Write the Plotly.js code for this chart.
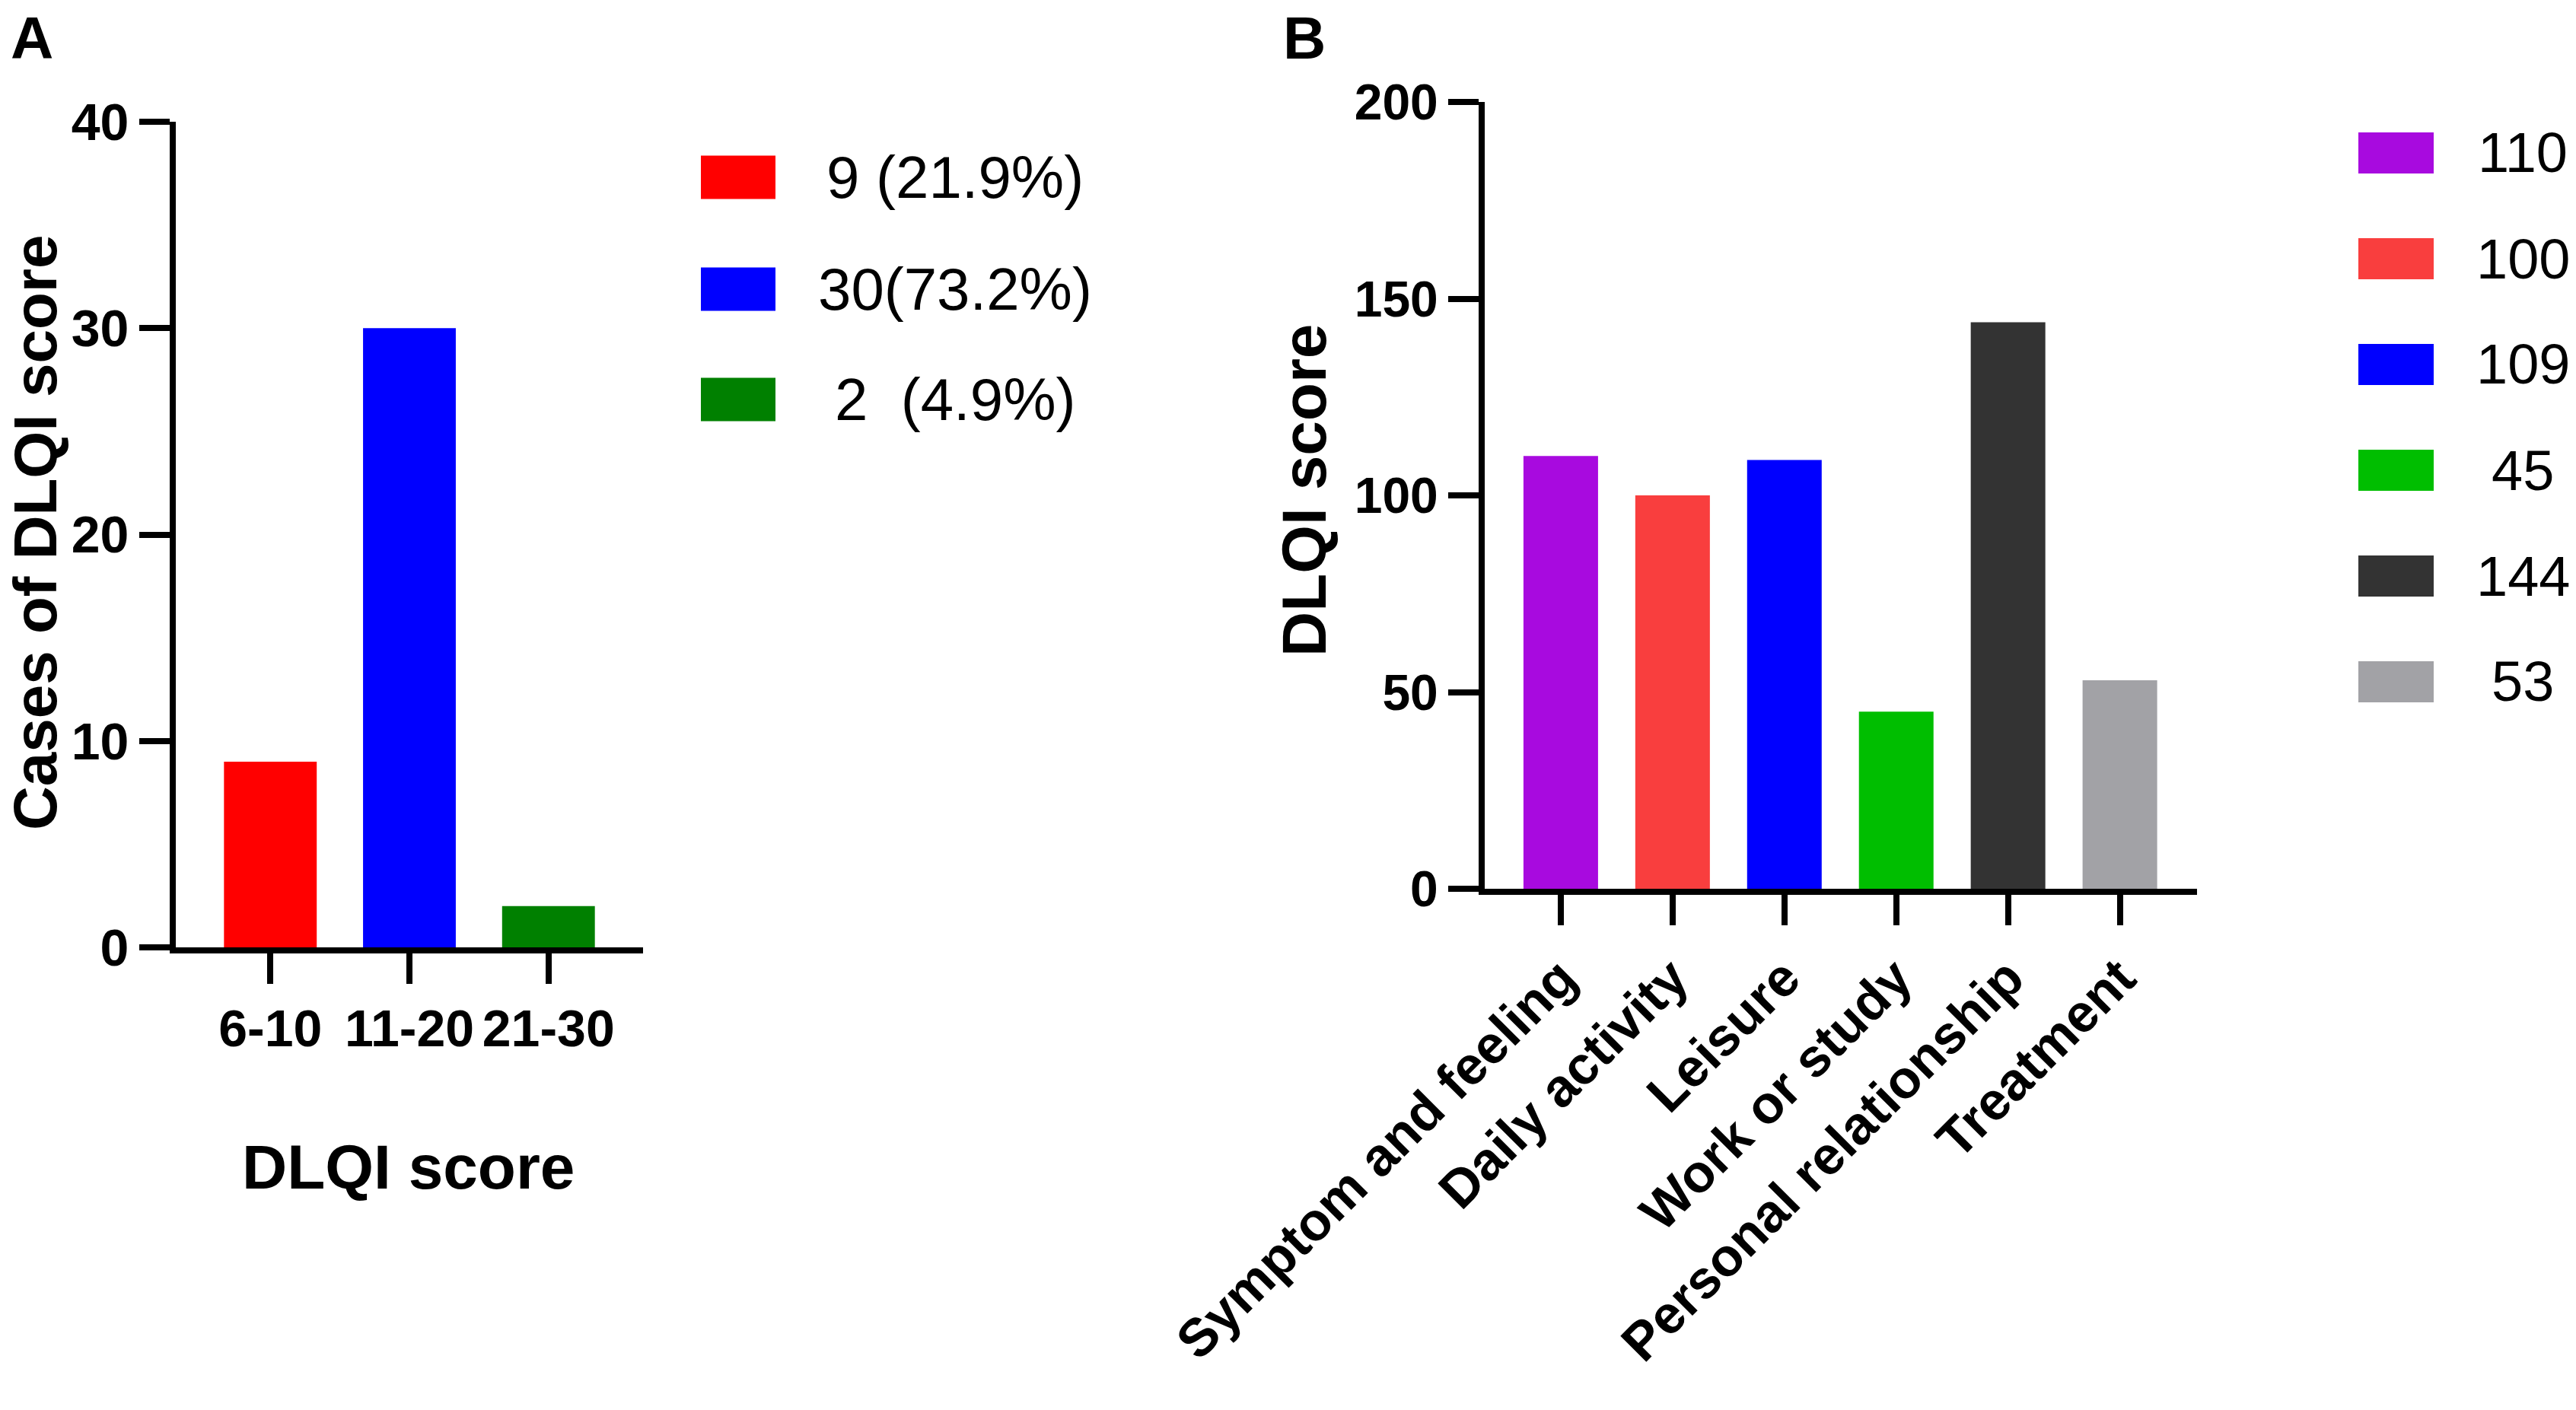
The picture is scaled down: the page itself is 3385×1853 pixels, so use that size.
<!DOCTYPE html>
<html>
<head>
<meta charset="utf-8">
<script src="https://cdn.plot.ly/plotly-3.0.1.min.js"></script>
<style>
  html, body { margin: 0; padding: 0; background: #fff; }
  #chart { width: 3385px; height: 1853px; }
</style>
</head>
<body>
<div id="chart"></div>
<script>
// Panel A: cases per DLQI score range
var scoreRanges = ['6-10', '11-20', '21-30'];
var caseCounts = [9, 30, 2];
var caseLabels = ['9 (21.9%)', '30(73.2%)', '2  (4.9%)'];
var caseColors = ['#FF0000', '#0000FF', '#008000'];

// Panel B: DLQI score per domain
var domains = ['Symptom and feeling', 'Daily activity', 'Leisure',
               'Work or study', 'Personal relationship', 'Treatment'];
var domainScores = [110, 100, 109, 45, 144, 53];
var domainColors = ['#A80ADF', '#F93E3E', '#0000FF', '#00BE00', '#333333', '#A2A2A6'];

var W = 3385, H = 1853;
var FONT = 'Arial, "Liberation Sans", sans-serif';

function px(x) { return x / W; }
function py(y) { return 1 - y / H; }

function axisStyle(extra)
{
    var a = {
        showline: true,
        linecolor: '#000',
        linewidth: 8,
        ticks: 'outside',
        ticklen: 40,
        tickwidth: 8,
        tickcolor: '#000',
        showgrid: false,
        zeroline: false,
        fixedrange: true
    };
    for (var k in extra) a[k] = extra[k];
    return a;
}

function legendBlock(labels, colors, x0, x1, yc, h, textX, size)
{
    var shapes = [], notes = [];
    for (let i = 0; i < labels.length; i++) {
        shapes.push({
            type: 'rect', xref: 'paper', yref: 'paper',
            x0: px(x0), x1: px(x1),
            y0: py(yc[i] + h / 2), y1: py(yc[i] - h / 2),
            fillcolor: colors[i], line: {width: 0}
        });
        notes.push({
            xref: 'paper', yref: 'paper',
            x: px(textX), y: py(yc[i]),
            xanchor: 'center', yanchor: 'middle',
            text: labels[i].replace(/ /g, '&nbsp;'), showarrow: false,
            font: {family: FONT, size: size, color: '#000'}
        });
    }
    return {shapes: shapes, notes: notes};
}

var traces = [{
    type: 'bar',
    x: scoreRanges,
    y: caseCounts,
    width: 0.667,
    marker: {color: caseColors, line: {width: 0}},
    xaxis: 'x', yaxis: 'y',
    showlegend: false,
    hoverinfo: 'x+y'
}, {
    type: 'bar',
    x: domains,
    y: domainScores,
    width: 0.667,
    marker: {color: domainColors, line: {width: 0}},
    xaxis: 'x2', yaxis: 'y2',
    showlegend: false,
    hoverinfo: 'x+y'
}];

var legA = legendBlock(caseLabels, caseColors, 921, 1019, [233, 380, 525], 57, 1255, 78);
var legB = legendBlock(domainScores.map(String), domainColors, 3099, 3198,
                       [201, 340, 479, 618, 757, 896], 54, 3315, 74);

var titleFont = {family: FONT, size: 82, color: '#000', weight: 'bold'};

var annotations = [
    // panel letters
    {xref: 'paper', yref: 'paper', x: px(42), y: py(50), text: '<b>A</b>',
     showarrow: false, xanchor: 'center', yanchor: 'middle',
     font: {family: FONT, size: 78, color: '#000'}},
    {xref: 'paper', yref: 'paper', x: px(1714), y: py(50), text: '<b>B</b>',
     showarrow: false, xanchor: 'center', yanchor: 'middle',
     font: {family: FONT, size: 78, color: '#000'}},
    // axis titles
    {xref: 'paper', yref: 'paper', x: px(46), y: py(700), text: '<b>Cases of DLQI score</b>',
     textangle: -90, showarrow: false, xanchor: 'center', yanchor: 'middle',
     font: {family: FONT, size: 80, color: '#000'}},
    {xref: 'paper', yref: 'paper', x: px(536), y: py(1533), text: '<b>DLQI score</b>',
     showarrow: false, xanchor: 'center', yanchor: 'middle', font: titleFont},
    {xref: 'paper', yref: 'paper', x: px(1713), y: py(645), text: '<b>DLQI score</b>',
     textangle: -90, showarrow: false, xanchor: 'center', yanchor: 'middle', font: titleFont}
].concat(legA.notes, legB.notes);

var tickFont = {family: FONT, size: 68, color: '#000', weight: 'bold'};

var layout = {
    width: W,
    height: H,
    margin: {l: 0, r: 0, t: 0, b: 0},
    paper_bgcolor: '#fff',
    plot_bgcolor: '#fff',
    barmode: 'overlay',
    showlegend: false,
    xaxis: axisStyle({
        domain: [px(231), px(845)],
        type: 'category',
        range: [-0.68, 2.68],
        tickfont: tickFont,
        anchor: 'y'
    }),
    yaxis: axisStyle({
        domain: [py(1245), py(160)],
        range: [0, 40],
        tickvals: [0, 10, 20, 30, 40],
        tickfont: tickFont,
        anchor: 'x'
    }),
    xaxis2: axisStyle({
        domain: [px(1951), px(2887)],
        type: 'category',
        range: [-0.68, 5.69],
        tickangle: -45,
        tickfont: {family: FONT, size: 70, color: '#000', weight: 'bold'},
        anchor: 'y2'
    }),
    yaxis2: axisStyle({
        domain: [py(1168), py(134)],
        range: [0, 200],
        tickvals: [0, 50, 100, 150, 200],
        tickfont: {family: FONT, size: 66, color: '#000', weight: 'bold'},
        anchor: 'x2'
    }),
    shapes: legA.shapes.concat(legB.shapes),
    annotations: annotations
};

Plotly.newPlot('chart', traces, layout, {displayModeBar: false, staticPlot: true});
</script>
</body>
</html>
